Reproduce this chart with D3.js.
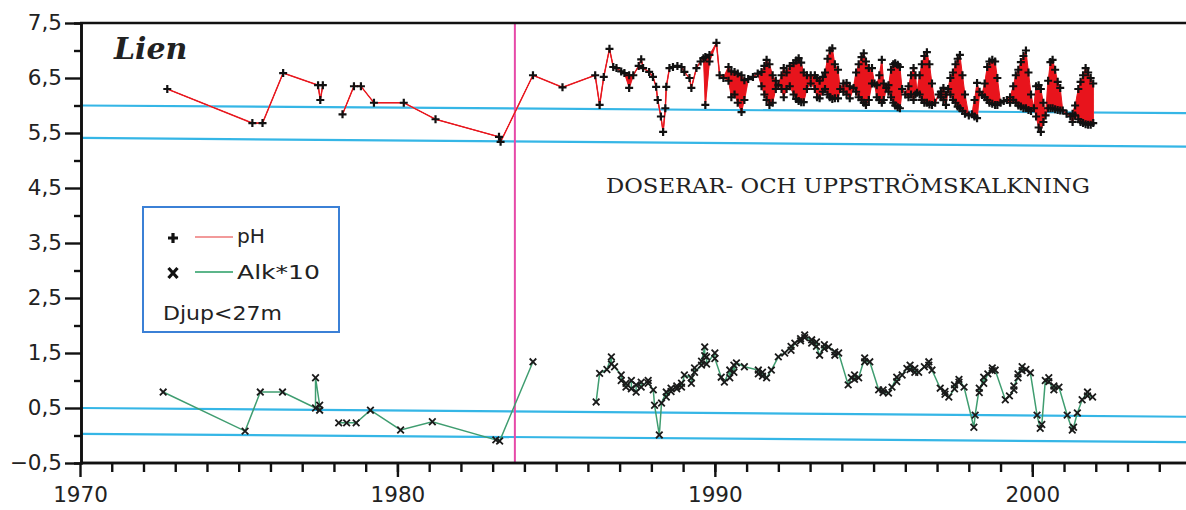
<!DOCTYPE html>
<html><head><meta charset="utf-8">
<script src="https://cdn.jsdelivr.net/npm/d3@7"></script>
<style>body{margin:0;background:#fff}svg{display:block}</style>
</head><body>
<svg id="c" width="1186" height="510"></svg>
<script>
// ---- data ----
const xMajorTicks = [1970, 1980, 1990, 2000];
const yMajorTicks = [7.5, 6.5, 5.5, 4.5, 3.5, 2.5, 1.5, 0.5, -0.5];
const yMinorTicks = [7, 6, 5, 4, 3, 2, 1, 0];
const kalkningYear = 1983.7;
// limit lines: [value at 1970, value at 2005]
const limitStart = [6.0, 5.41, 0.5, 0.03];
const limitEnd   = [5.86, 5.25, 0.34, -0.12];

// pH: sampling dates and values at the depths (<27 m); null = gap
const phYears = [1972.75,1975.43,1975.75,1976.40,1977.50,1977.57,1977.65,1977.9,1978.27,1978.63,1978.85,1979.26,1980.20,1981.20,1983.20,1983.25,1984.27,1985.20,
1986.23,1986.37,1986.50,1986.68,1986.80,1986.90,1987.05,1987.15,1987.30,1987.43,1987.60,1987.68,1987.74,1987.93,1988.05,1988.15,1988.20,1988.30,1988.37,1988.44,1988.47,1988.57,1988.68,1988.82,1988.95,
1989.04,1989.20,1989.26,1989.42,1989.55,1989.64,1989.70,1989.83,1990.05,1990.15,1990.27,1990.43,1990.52,1990.62,1990.72,1990.84,1990.93,
1991.05,1991.20,1991.35,1991.47,1991.56,1991.63,1991.72,1991.82,1991.92,1992.00,1992.10,1992.17,1992.26,1992.36,1992.48,1992.56,1992.64,1992.72,1992.80,1992.90,
1993.02,1993.15,1993.22,1993.30,1993.40,1993.47,1993.55,1993.62,1993.70,1993.78,1993.88,1993.95,1994.05,1994.15,1994.25,1994.37,1994.45,1994.53,1994.62,1994.69,1994.76,1994.85,1994.95,
1995.03,1995.10,1995.18,1995.26,1995.32,1995.40,1995.47,1995.55,1995.62,1995.68,1995.76,1995.83,1995.90,1996.00,1996.10,1996.18,1996.26,1996.32,1996.37,1996.45,1996.52,1996.60,1996.68,1996.76,1996.84,1996.94,
1997.05,1997.12,1997.20,1997.28,1997.35,1997.42,1997.50,1997.58,1997.65,1997.72,1997.80,1997.88,1998.00,1998.10,1998.18,1998.26,1998.34,1998.42,1998.50,1998.58,1998.65,1998.74,1998.83,1998.90,
1999.00,1999.10,1999.20,1999.30,1999.40,1999.48,1999.56,1999.64,1999.72,1999.80,1999.88,1999.96,2000.05,2000.12,2000.20,2000.27,2000.35,2000.42,2000.50,2000.57,2000.64,2000.72,2000.80,2000.88,2000.96,
2001.08,2001.20,2001.27,2001.35,2001.45,2001.52,2001.60,2001.68,2001.76,2001.84,2001.92];
const phValues = [[6.30],[5.68],[5.68],[6.59],[6.37],[6.10],[6.37],null,[5.84],[6.35],[6.35],[6.05],[6.05],[5.75],[5.43],[5.34],[6.55],[6.33],
[6.55],[6.01],[6.52],[7.03],[6.70],[6.68],[6.62],[6.59],[6.55,6.32],[6.55],[6.72],[6.84],[6.68],[6.61],[6.52],[6.34],[6.10],[5.80],[5.52],[5.95],[6.34],[6.68],[6.70],[6.72],[6.70],
[6.61],[6.50],[6.32],[6.68],[6.80],[6.86],[6.88,6.01],[6.92,6.80],[7.14],[6.55],[6.50],[6.70,6.45],[6.62,6.15],[6.61,6.20],[6.58,6.05],[6.55,5.88],[6.46,6.10],
[6.48],[6.52],[6.58],[6.61,6.35],[6.72,6.20],[6.83,6.10],[6.75,6.01],[6.55,6.05],[6.45,6.30],[6.37],[6.55,6.30],[6.68,6.15],[6.60,6.30],[6.72,6.35],[6.77,6.20],[6.82,6.12],[6.86,6.08],[6.78,6.06],[6.60,6.06],[6.55,6.30],
[6.55,6.40],[6.55,6.30],[6.50,6.15],[6.45,6.13],[6.52,6.25],[6.60,6.30],[6.85,6.20],[7.00,6.15],[7.04,6.12],[6.75,6.13],[6.65,6.13],[6.30],[6.40,6.25],[6.41,6.20],[6.35,6.13],[6.32],[6.60,6.25],[6.75,6.15],[6.88,6.10],[6.95,6.05],[6.80,6.01],[6.68,6.10],[6.68,6.40],
[6.40],[6.37,6.15],[6.55,6.10],[6.83,6.05],[6.40,6.10],[6.32],[6.37,6.25],[6.65,6.15],[6.75,6.05],[6.77,6.00],[6.74,5.97],[6.70,5.95],[6.30],[6.20],[6.35,6.15],[6.55,6.20],[6.68,6.10],[6.55,6.20],[6.23],[6.55,6.20],[6.75,6.10],[6.90,6.05],[6.97,6.05],[6.75,6.02],[6.40,6.01],[6.05],
[6.20],[6.25,6.15],[6.32,6.10],[6.20,6.01],[6.30],[6.50,6.20],[6.60,6.10],[6.75,6.05],[6.85,5.98],[6.92,5.95],[6.55,5.90],[6.20,5.85],[5.82],[5.84],[6.10,5.80],[6.41,5.77],[6.25],[6.19],[6.40,6.15],[6.70,6.10],[6.80,6.05],[6.83,6.03],[6.80,6.01],[6.50,6.01],
[6.05],[6.08],[6.10],[6.15,6.05],[6.35,6.10],[6.55,6.05],[6.65,6.00],[6.79,5.98],[6.90,5.95],[7.00,5.95],[6.60,5.92],[6.20,5.90],[5.95],[6.35,5.80],[6.37,5.60],[6.30,5.52],[6.05,5.70],[5.82],[6.45,5.95],[6.79,5.95],[6.83,5.95],[6.65,5.93],[6.43,5.92],[6.32,5.91],[5.91],
[5.85],[5.80],[5.70,5.85],[6.00,5.82],[6.30,5.75],[6.43,5.70],[6.55,5.68],[6.68,5.66],[6.60,5.65],[6.50,5.65],[6.40,5.68]];

// Alkalinity * 10
const alkYears = [1972.62,1975.20,1975.68,1976.38,1977.42,1977.55,1977.9,1978.15,1978.40,1978.70,1979.15,1980.10,1981.10,1983.10,1983.22,1984.27,1985.5,
1986.26,1986.37,1986.60,1986.74,1986.84,1987.05,1987.20,1987.37,1987.52,1987.68,1987.90,1988.06,1988.10,1988.25,1988.32,1988.47,1988.62,1988.80,1988.95,
1989.04,1989.26,1989.36,1989.58,1989.68,1989.74,1990.00,1990.20,1990.30,1990.47,1990.60,1990.68,1990.93,1991.37,1991.50,1991.63,1991.78,
1992.00,1992.20,1992.40,1992.52,1992.70,1992.83,1993.05,1993.20,1993.30,1993.45,1993.58,1993.78,1993.90,1994.20,1994.30,1994.40,1994.53,1994.72,1994.88,
1995.16,1995.30,1995.47,1995.58,1995.73,1995.90,1996.05,1996.15,1996.30,1996.42,1996.60,1996.74,1996.84,1997.10,1997.25,1997.37,1997.55,1997.69,1997.85,
1998.16,1998.20,1998.33,1998.47,1998.60,1998.74,1998.83,1999.15,1999.28,1999.42,1999.55,1999.68,1999.80,1999.94,2000.15,2000.25,2000.30,2000.41,2000.52,2000.68,2000.84,
2001.10,2001.26,2001.30,2001.42,2001.57,2001.74,2001.90];
const alkValues = [[0.79],[0.08],[0.79],[0.79],[0.50,1.05],[0.55,0.46],null,[0.23],[0.23],[0.23],[0.46],[0.10],[0.25],[-0.08],[-0.10],[1.34],null,
[0.61],[1.13],[1.20],[1.43,1.30],[1.25],[1.10,1.00],[0.95,0.88],[1.00,0.85],[0.79,0.92],[0.97,0.88],[1.00,0.95],[0.83],[0.55],[0.01],[0.59],[0.79,0.70],[0.86,0.80],[0.90,0.85],[0.95,0.88],
[1.10],[1.05,0.95],[1.23,1.15],[1.28,1.35],[1.61,1.45],[1.43,1.30],[1.50,1.40],[1.06],[0.97],[1.19,1.05],[1.28,1.15],[1.32],[1.25],[1.19,1.12],[1.15,1.08],[1.05],[1.19],
[1.43],[1.50],[1.62,1.55],[1.68],[1.76,1.72],[1.83,1.78],[1.74,1.68],[1.70,1.62],[1.46],[1.65,1.58],[1.61],[1.52,1.46],[1.50],[0.92],[1.05],[1.10,1.02],[1.05],[1.41,1.34],[1.34],
[0.83],[0.83,0.78],[0.77],[0.88],[1.06,0.98],[1.10],[1.22],[1.28,1.20],[1.22,1.15],[1.15],[1.25],[1.34,1.28],[1.19],[0.86],[0.80,0.75],[0.70],[0.85,0.92],[0.97,1.02],[0.88],
[0.15],[0.37],[0.86,0.78],[1.06,0.95],[1.12],[1.23,1.18],[1.19],[0.65],[0.72],[0.83,0.90],[1.05,1.12],[1.25,1.18],[1.20],[1.14],[0.37],[0.13],[0.20],[1.00],[1.05,0.98],[0.83,0.90],[0.88],
[0.37],[0.10],[0.15],[0.41],[0.65],[0.79,0.72],[0.70]];

// ---- drawing ----
const svg = d3.select("#c");
const W = 1186, H = 510;
const x = d3.scaleLinear().domain([1970, 2005]).range([80, 1191]);
const y = d3.scaleLinear().domain([-0.5, 7.5]).range([463, 23]);
const comma = v => d3.format(".1f")(v).replace(".", ",");

function flatten(years, values) {
  const pts = [];
  years.forEach((t, i) => {
    const vs = values[i];
    if (vs === null) { pts.push(null); return; }
    vs.forEach(v => pts.push({t, v}));
  });
  return pts;
}
function ranges(years, values) {
  return years.map((t, i) => values[i] === null ? null : {t, lo: d3.min(values[i]), hi: d3.max(values[i])});
}

// limit lines (cyan)
limitStart.forEach((v, i) => {
  svg.append("line")
    .attr("x1", x(1970) + 2).attr("y1", y(v))
    .attr("x2", x(2005)).attr("y2", y(limitEnd[i]))
    .attr("stroke", "#35b6e6").attr("stroke-width", 2.2);
});

// kalkning vertical line
svg.append("line")
  .attr("x1", x(kalkningYear)).attr("x2", x(kalkningYear))
  .attr("y1", y(7.5)).attr("y2", y(-0.5))
  .attr("stroke", "#e64aa8").attr("stroke-width", 2);

const line = d3.line().defined(d => d !== null).x(d => x(d.t)).y(d => y(d.v));
const area = d3.area().defined(d => d !== null).x(d => x(d.t)).y0(d => y(d.lo)).y1(d => y(d.hi));

// pH
const phPts = flatten(phYears, phValues);
svg.append("path").attr("d", line(phPts)).attr("fill", "none")
  .attr("stroke", "#f07a7a").attr("stroke-width", 1.6);
svg.append("path").attr("d", area(ranges(phYears, phValues)))
  .attr("fill", "#e8141c").attr("stroke", "#e8141c").attr("stroke-width", 1);

// Alk
const alkPts = flatten(alkYears, alkValues);
svg.append("path").attr("d", line(alkPts)).attr("fill", "none")
  .attr("stroke", "#3f9d70").attr("stroke-width", 1.5);

const plusPath = "M-4,0H4M0,-4V4";
const crossPath = "M-3.3,-3.3L3.3,3.3M-3.3,3.3L3.3,-3.3";
svg.append("g").selectAll("path").data(phPts.filter(Boolean)).join("path")
  .attr("transform", d => `translate(${x(d.t)},${y(d.v)})`)
  .attr("d", plusPath).attr("stroke", "#111").attr("stroke-width", 2.2).attr("fill", "none");
svg.append("g").selectAll("path").data(alkPts.filter(Boolean)).join("path")
  .attr("transform", d => `translate(${x(d.t)},${y(d.v)})`)
  .attr("d", crossPath).attr("stroke", "#1a1a1a").attr("stroke-width", 1.8).attr("fill", "none");

// axes
const font = "'DejaVu Sans', Verdana, sans-serif";
const yAxisMinor = svg.append("g").attr("transform", `translate(${x(1970)+1},0)`)
  .call(d3.axisLeft(y).tickValues(yMinorTicks).tickSize(7).tickFormat(""));
const yAxis = svg.append("g").attr("transform", `translate(${x(1970)+1},0)`)
  .call(d3.axisLeft(y).tickValues(yMajorTicks).tickSize(16).tickSizeOuter(0).tickPadding(3).tickFormat(comma));
const xAxisMinor = svg.append("g").attr("transform", `translate(0,${y(-0.5)})`)
  .call(d3.axisBottom(x).tickValues(d3.range(1971, 2005)).tickSize(9).tickFormat(""));
const xAxis = svg.append("g").attr("transform", `translate(0,${y(-0.5)})`)
  .call(d3.axisBottom(x).tickValues(xMajorTicks).tickSize(14).tickSizeOuter(0).tickPadding(10).tickFormat(d3.format("d")));
[yAxisMinor, yAxis, xAxisMinor, xAxis].forEach(g => {
  g.selectAll("path.domain").attr("stroke", "#111").attr("stroke-width", 2.6);
  g.selectAll(".tick line").attr("stroke", "#111").attr("stroke-width", 2.4);
  g.selectAll("text").attr("font-family", font).attr("font-size", 21.5).attr("fill", "#222");
});
xAxisMinor.select("path.domain").attr("d", `M${x(1970)},0H${W}`);
xAxis.select("path.domain").attr("d", `M${x(1970)},0H${W}`);
// top frame
svg.append("line").attr("x1", x(1970)).attr("x2", W).attr("y1", y(7.5)).attr("y2", y(7.5))
  .attr("stroke", "#111").attr("stroke-width", 2.6);

// titles
svg.append("text").attr("x", 114).attr("y", 59).text("Lien")
  .attr("font-family", "'DejaVu Serif', serif").attr("font-weight", "bold").attr("font-style", "italic")
  .attr("font-size", 30).attr("fill", "#222");
svg.append("text").attr("x", 606).attr("y", 193).text("DOSERAR- OCH UPPSTRÖMSKALKNING")
  .attr("font-family", "'DejaVu Serif', serif").attr("font-size", 20).attr("fill", "#222")
  .attr("textLength", 484).attr("lengthAdjust", "spacingAndGlyphs");

// legend
const lg = svg.append("g");
lg.append("rect").attr("x", 143).attr("y", 207).attr("width", 196).attr("height", 125)
  .attr("fill", "#fff").attr("stroke", "#3b80d6").attr("stroke-width", 2);
lg.append("path").attr("transform", "translate(173,238)").attr("d", "M-5,0H5M0,-5V5")
  .attr("stroke", "#111").attr("stroke-width", 3.2);
lg.append("path").attr("transform", "translate(173,273)").attr("d", "M-4.5,-5L4.5,5M-4.5,5L4.5,-5")
  .attr("stroke", "#111").attr("stroke-width", 3.2);
lg.append("line").attr("x1", 195).attr("x2", 233).attr("y1", 237).attr("y2", 237)
  .attr("stroke", "#f29a9a").attr("stroke-width", 1.8);
lg.append("line").attr("x1", 195).attr("x2", 233).attr("y1", 272).attr("y2", 272)
  .attr("stroke", "#5cb58a").attr("stroke-width", 1.8);
[["pH", 237, 243, 28], ["Alk*10", 237, 279, 83], ["Djup<27m", 163, 320, 119]].forEach(([t, lx, ly, len]) => {
  lg.append("text").attr("x", lx).attr("y", ly).text(t)
    .attr("font-family", font).attr("font-size", 19).attr("fill", "#222")
    .attr("textLength", len).attr("lengthAdjust", "spacingAndGlyphs");
});
</script>
</body></html>
